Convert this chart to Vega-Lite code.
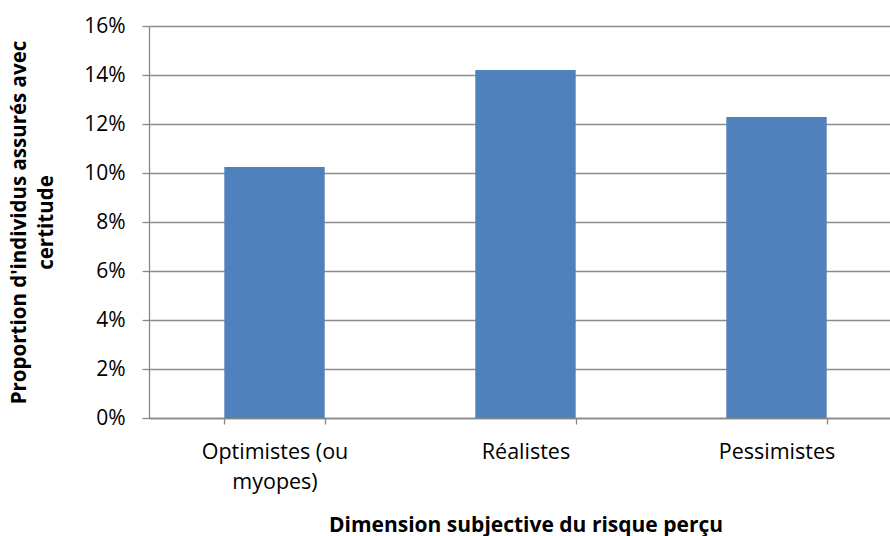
{
  "$schema": "https://vega.github.io/schema/vega-lite/v6.json",
  "width": 753,
  "height": 392,
  "autosize": {"type": "none"},
  "padding": {"left": 149, "top": 26, "right": 0, "bottom": 118},
  "background": "white",
  "config": {
    "font": "Open Sans",
    "view": {"stroke": null},
    "axis": {
      "labelFont": "Open Sans",
      "titleFont": "Open Sans",
      "labelColor": "#000000",
      "titleColor": "#000000",
      "domainColor": "#888888",
      "tickColor": "#888888",
      "gridColor": "#8c8c8c",
      "gridWidth": 1.3,
      "domainWidth": 1.3,
      "tickWidth": 1.3
    }
  },
  "data": {
    "values": [
      {"categorie": "Optimistes (ou myopes)", "proportion": 0.1024},
      {"categorie": "Réalistes", "proportion": 0.142},
      {"categorie": "Pessimistes", "proportion": 0.1229}
    ]
  },
  "mark": {"type": "bar", "color": "#4f81bd"},
  "encoding": {
    "x": {
      "field": "categorie",
      "type": "nominal",
      "sort": null,
      "scale": {"paddingInner": 0.6, "paddingOuter": 0.3},
      "axis": {
        "title": "Dimension subjective du risque perçu",
        "titleFontSize": 21,
        "titleFontWeight": "bold",
        "titleY": 113,
        "titleBaseline": "alphabetic",
        "labelAngle": 0,
        "labelFontSize": 21.5,
        "labelPadding": 17,
        "labelLineHeight": 30,
        "labelExpr": "datum.value == 'Optimistes (ou myopes)' ? ['Optimistes (ou', 'myopes)'] : datum.value",
        "tickBand": "extent",
        "tickSize": 6,
        "grid": false
      }
    },
    "y": {
      "field": "proportion",
      "type": "quantitative",
      "scale": {"domain": [0, 0.16], "nice": false},
      "axis": {
        "title": ["Proportion d'individus assurés avec", "certitude"],
        "titleFontSize": 20.5,
        "titleFontWeight": "bold",
        "titleAngle": -90,
        "titleX": -140,
        "titleY": 196,
        "titleAlign": "center",
        "titleBaseline": "top",
        "titleLineHeight": 27,
        "values": [0, 0.02, 0.04, 0.06, 0.08, 0.1, 0.12, 0.14, 0.16],
        "format": ".0%",
        "labelFontSize": 21,
        "labelPadding": 17,
        "tickSize": 7,
        "grid": true
      }
    }
  }
}
